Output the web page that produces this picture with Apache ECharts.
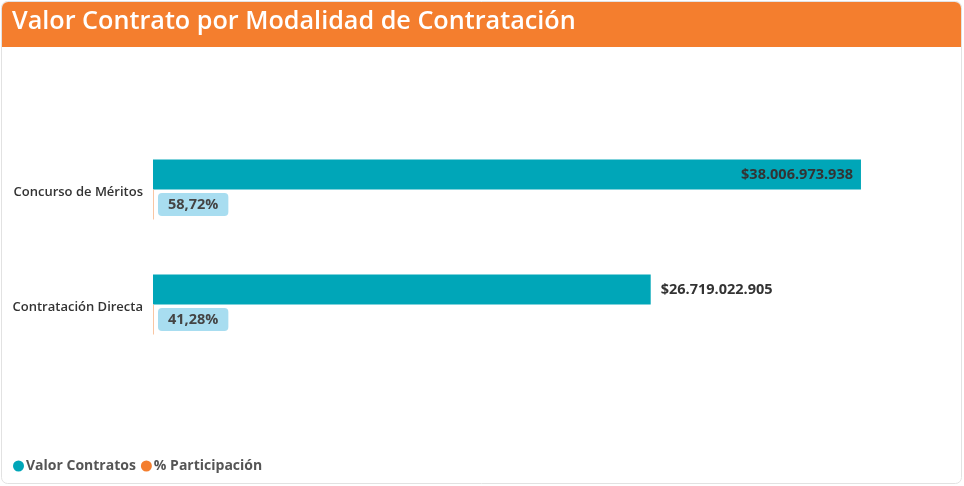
<!DOCTYPE html>
<html>
<head>
<meta charset="utf-8">
<script src="https://cdn.jsdelivr.net/npm/echarts@6/dist/echarts.min.js"></script>
<style>
  html, body { margin: 0; padding: 0; background: #fff; }
  #main { width: 964px; height: 486px; }
</style>
</head>
<body>
<div id="main"></div>
<script>
// datos del gráfico
const categories = ['Concurso de Méritos', 'Contratación Directa']
const valorContratos = [38006973938, 26719022905]
const participacion = [58.72, 41.28]
const seriesNames = ['Valor Contratos', '% Participación']
const titleText = 'Valor Contrato por Modalidad de Contratación'

const font = '"Open Sans", "Noto Sans", sans-serif'

// formato $38.006.973.938
function money(v) {
  return '$' + String(Math.round(v)).replace(/\B(?=(\d{3})+(?!\d))/g, '.')
}
function pct(v) {
  return v.toFixed(2).replace('.', ',') + '%'
}

const chart = echarts.init(document.getElementById('main'))
const axisMax = 42250000000

const option = {
  animation: false,
  textStyle: { fontFamily: font },
  graphic: [
    {
      type: 'rect',
      shape: { x: 1.5, y: 1.5, width: 960, height: 482, r: 6 },
      style: { fill: '#fff', stroke: '#e2e2e2', lineWidth: 1 },
      z: -10
    },
    {
      type: 'rect',
      shape: { x: 2, y: 2, width: 959, height: 45, r: [6, 6, 0, 0] },
      style: { fill: '#F47E2E' },
      z: -9
    }
  ],
  title: {
    text: titleText,
    left: 7,
    top: 4,
    textStyle: {
      color: '#fff',
      fontSize: 25.2,
      fontWeight: 600,
      fontFamily: font
    }
  },
  legend: {
    data: [
      { name: seriesNames[0], itemStyle: { color: '#00A6B8' } },
      { name: seriesNames[1], itemStyle: { color: '#F47E2E' } }
    ],
    left: 8,
    top: 454,
    icon: 'circle',
    itemWidth: 11,
    itemHeight: 11,
    itemGap: 5,
    textStyle: { color: '#555', fontSize: 14, fontWeight: 'bold', padding: [0, 0, 0, -3] }
  },
  grid: {
    left: 153,
    right: 24,
    top: 132,
    height: 230
  },
  xAxis: {
    type: 'value',
    min: 0,
    max: axisMax,
    show: false
  },
  yAxis: {
    type: 'category',
    data: categories,
    inverse: true,
    axisLine: { show: false },
    axisTick: { show: false },
    axisLabel: {
      color: '#333',
      fontSize: 13,
      fontWeight: 600,
      margin: 10,
      verticalAlign: 'top',
      lineHeight: 6
    }
  },
  series: [
    {
      name: seriesNames[0],
      type: 'bar',
      barWidth: 30,
      barGap: '0%',
      itemStyle: { color: '#00A6B8' },
      data: valorContratos.map(v => ({
        value: v,
        // etiqueta dentro si la barra es larga, fuera si no
        label: v / axisMax > 0.8
          ? { position: 'insideRight', distance: 8 }
          : { position: 'right', distance: 10 }
      })),
      label: {
        show: true,
        formatter: p => money(p.value),
        color: '#333',
        fontSize: 14.5,
        fontWeight: 'bold'
      }
    },
    {
      name: seriesNames[1],
      type: 'bar',
      barWidth: 30,
      barMinHeight: 1,
      itemStyle: { color: '#F9C6A3' },
      data: participacion,
      label: {
        show: true,
        position: 'right',
        distance: 4,
        formatter: p => pct(p.value),
        color: '#444',
        fontSize: 14.5,
        fontWeight: 'bold',
        backgroundColor: '#A8DDF0',
        borderRadius: 4,
        padding: [4, 10, 4, 10]
      }
    }
  ],
  color: ['#00A6B8', '#F47E2E']
}

chart.setOption(option)
</script>
</body>
</html>
